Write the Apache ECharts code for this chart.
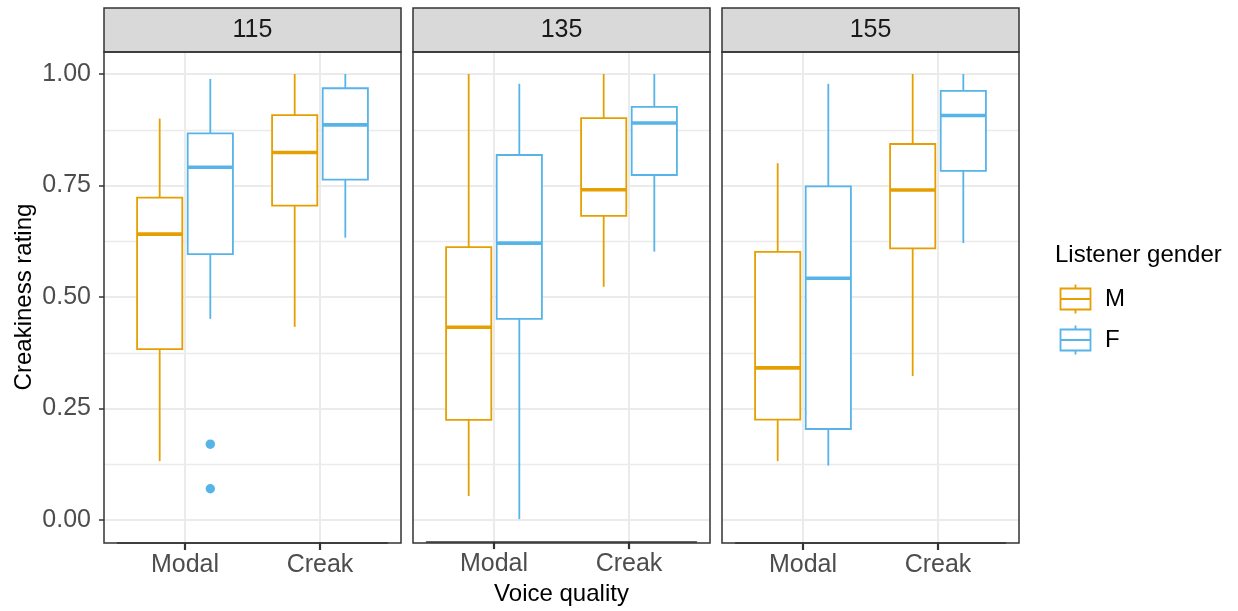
<!DOCTYPE html>
<html>
<head>
<meta charset="utf-8">
<script src="https://cdn.jsdelivr.net/npm/echarts@6/dist/echarts.min.js"></script>
<style>
  html, body { margin: 0; padding: 0; background: #fff; }
  #chart { width: 1238px; height: 611px; }
</style>
</head>
<body>
<div id="chart"></div>
<script>
// ---------------- data ----------------
const categories = ['Modal', 'Creak'];
const panels = ['115', '135', '155'];
const yTicks = [0, 0.25, 0.5, 0.75, 1];
const yTickLabels = ['0.00', '0.25', '0.50', '0.75', '1.00'];

// [low whisker, Q1, median, Q3, high whisker] for Modal, Creak
const M_115 = [[0.132, 0.383, 0.641, 0.723, 0.900], [0.433, 0.705, 0.824, 0.908, 1.000]];
const F_115 = [[0.451, 0.596, 0.791, 0.867, 0.989], [0.633, 0.763, 0.886, 0.968, 1.000]];
const M_135 = [[0.052, 0.223, 0.431, 0.611, 1.000], [0.522, 0.681, 0.740, 0.901, 1.000]];
const F_135 = [[0.000, 0.450, 0.620, 0.818, 0.978], [0.601, 0.773, 0.890, 0.926, 1.000]];
const M_155 = [[0.132, 0.225, 0.341, 0.601, 0.800], [0.323, 0.609, 0.740, 0.843, 1.000]];
const F_155 = [[0.122, 0.204, 0.542, 0.748, 0.978], [0.621, 0.783, 0.907, 0.962, 1.000]];

// outliers: [category, value]
const F_115_outliers = [['Modal', 0.170], ['Modal', 0.070]];

// ---------------- styling ----------------
const FONT = '"Liberation Sans", Arial, sans-serif';
const ORANGE = '#E69F00';
const BLUE = '#56B4E9';
const GRID_COLOR = '#EBEBEB';
const BORDER = '#333333';
const LW = 1.8;
const BOX_WIDTH = 0.335;  // fraction of category band
const DODGE = 0.1875;     // offset of box centre from category centre (fraction of band)

const PANEL_X0 = 104, PANEL_W = 297, PANEL_GAP = 12;
const PANEL_TOP = 52, PANEL_BOTTOM = 543;
const STRIP_TOP = 8;
const Y0_PX = 520, Y1_PX = 74; // pixel rows of 0 and 1
const EXPAND = 0.6; // ggplot discrete expansion (units)

const pxPerUnit = (Y0_PX - Y1_PX);
const yMinFull = -(PANEL_BOTTOM - Y0_PX) / pxPerUnit;
const yMaxFull = 1 + (Y1_PX - PANEL_TOP) / pxPerUnit;

const statsM = { '115': M_115, '135': M_135, '155': M_155 };
const statsF = { '115': F_115, '135': F_135, '155': F_155 };
const outliersF = { '115': F_115_outliers, '135': [], '155': [] };

function boxRenderer(offset, color) {
  return function (params, api) {
    const ci = api.value(0);
    const band = api.size([1, 0])[0];
    const x = api.coord([ci, 0])[0] + offset * band;
    const hw = BOX_WIDTH * band / 2;
    const y = k => api.coord([ci, api.value(k)])[1];
    const yl = y(1), yq1 = y(2), ym = y(3), yq3 = y(4), yh = y(5);
    return {
      type: 'group',
      children: [
        { type: 'line', shape: { x1: x, y1: yh, x2: x, y2: yq3 }, style: { stroke: color, lineWidth: LW } },
        { type: 'line', shape: { x1: x, y1: yq1, x2: x, y2: yl }, style: { stroke: color, lineWidth: LW } },
        { type: 'rect', shape: { x: x - hw, y: yq3, width: 2 * hw, height: yq1 - yq3 }, style: { fill: '#fff', stroke: color, lineWidth: LW } },
        { type: 'line', shape: { x1: x - hw, y1: ym, x2: x + hw, y2: ym }, style: { stroke: color, lineWidth: LW * 2 } }
      ]
    };
  };
}

function outlierRenderer(offset, color) {
  return function (params, api) {
    const ci = api.value(0);
    const band = api.size([1, 0])[0];
    const p = api.coord([ci, api.value(1)]);
    return { type: 'circle', shape: { cx: p[0] + offset * band, cy: p[1], r: 4.7 }, style: { fill: color } };
  };
}

const grids = [], xAxes = [], yAxes = [], series = [];
const hiddenValueAxis = (gi) => ({ type: 'value', gridIndex: gi, show: false, splitLine: { show: false } });

panels.forEach((pn, p) => {
  const left = PANEL_X0 + p * (PANEL_W + PANEL_GAP);
  const unit = PANEL_W / (categories.length - 1 + 2 * EXPAND);
  const catW = unit * categories.length;
  const catLeft = left + (EXPAND - 0.5) * unit;
  const base = grids.length;

  // A: frame
  grids.push({ left: left, top: PANEL_TOP, width: PANEL_W, height: PANEL_BOTTOM - PANEL_TOP, show: true,
    borderColor: BORDER, borderWidth: 1.5, backgroundColor: 'transparent', z: 5 });
  xAxes.push(hiddenValueAxis(base));
  yAxes.push(hiddenValueAxis(base));

  // B: horizontal grid lines & y labels
  grids.push({ left: left, top: Y1_PX, width: PANEL_W, height: Y0_PX - Y1_PX, show: false });
  xAxes.push(hiddenValueAxis(base + 1));
  yAxes.push({
    type: 'value', gridIndex: base + 1, min: 0, max: 1, interval: 0.25,
    axisLine: { show: false },
    axisTick: { show: p === 0, length: 5, lineStyle: { color: BORDER, width: 1.5 } },
    axisLabel: { show: p === 0, margin: 13, fontSize: 25, color: '#4D4D4D', fontFamily: FONT,
      formatter: v => { const i = yTicks.findIndex(t => Math.abs(t - v) < 1e-9); return i >= 0 ? yTickLabels[i] : ''; } },
    splitLine: { show: true, lineStyle: { color: GRID_COLOR, width: 2 } },
    minorTick: { show: false, splitNumber: 2 },
    minorSplitLine: { show: true, lineStyle: { color: GRID_COLOR, width: 1.3 } },
    name: p === 0 ? 'Creakiness rating' : '',
    nameLocation: 'middle', nameGap: 68, nameRotate: 90,
    nameTextStyle: { fontSize: 24, color: '#000', fontFamily: FONT }
  });

  // C: categories (ticks, labels) & boxes
  grids.push({ left: catLeft, top: PANEL_TOP, width: catW, height: PANEL_BOTTOM - PANEL_TOP, show: false });
  xAxes.push({
    type: 'category', gridIndex: base + 2, data: categories, boundaryGap: true, position: 'bottom', z: 10,
    axisLine: { show: true, onZero: false, lineStyle: { color: BORDER, width: 1.5 } },
    axisTick: { show: true, inside: false, interval: 0, alignWithLabel: true, length: 7, lineStyle: { color: '#333333', width: 2.2 } },
    axisLabel: { margin: 10, fontSize: 25, color: '#4D4D4D', fontFamily: FONT },
    splitLine: { show: false },
    name: p === 1 ? 'Voice quality' : '',
    nameLocation: 'middle', nameGap: 37,
    nameTextStyle: { fontSize: 24, color: '#000', fontFamily: FONT }
  });
  yAxes.push({ type: 'value', gridIndex: base + 2, min: yMinFull, max: yMaxFull, show: false, splitLine: { show: false } });

  // D: strip
  grids.push({ left: left, top: STRIP_TOP, width: PANEL_W, height: PANEL_TOP - STRIP_TOP, show: true,
    backgroundColor: '#D9D9D9', borderColor: BORDER, borderWidth: 1.5, z: 4 });
  xAxes.push({
    type: 'category', gridIndex: base + 3, data: [pn], z: 8, position: 'bottom',
    axisLine: { show: false, onZero: false }, axisTick: { show: false }, splitLine: { show: false },
    axisLabel: { inside: true, verticalAlign: 'middle', margin: 22, fontSize: 25, color: '#1A1A1A', fontFamily: FONT }
  });
  yAxes.push(hiddenValueAxis(base + 3));

  // E: vertical grid lines at category centres (drawn below the frame)
  grids.push({ left: catLeft, top: PANEL_TOP, width: catW, height: PANEL_BOTTOM - PANEL_TOP, show: false });
  xAxes.push({
    type: 'category', gridIndex: base + 4, data: categories, boundaryGap: true,
    axisLine: { show: false, onZero: false }, axisTick: { show: false }, axisLabel: { show: false },
    splitLine: { show: true, alignWithLabel: true, lineStyle: { color: GRID_COLOR, width: 2 } }
  });
  yAxes.push(hiddenValueAxis(base + 4));

  const dims = ['cat', 'low', 'q1', 'med', 'q3', 'high'];
  series.push({
    name: 'M', type: 'custom', xAxisIndex: base + 2, yAxisIndex: base + 2,
    dimensions: dims, encode: { x: 0, y: [1, 2, 3, 4, 5] },
    renderItem: boxRenderer(-DODGE, ORANGE),
    data: categories.map((c, i) => [c].concat(statsM[pn][i])),
    itemStyle: { color: ORANGE }, z: 3
  });
  series.push({
    name: 'F', type: 'custom', xAxisIndex: base + 2, yAxisIndex: base + 2,
    dimensions: dims, encode: { x: 0, y: [1, 2, 3, 4, 5] },
    renderItem: boxRenderer(DODGE, BLUE),
    data: categories.map((c, i) => [c].concat(statsF[pn][i])),
    itemStyle: { color: BLUE }, z: 3
  });
  if (outliersF[pn].length) {
    series.push({
      name: 'F', type: 'custom', xAxisIndex: base + 2, yAxisIndex: base + 2,
      dimensions: ['cat', 'val'], encode: { x: 0, y: 1 },
      renderItem: outlierRenderer(DODGE, BLUE),
      data: outliersF[pn], itemStyle: { color: BLUE }, z: 3
    });
  }
});

const KEY_PATH = 'path://M15,0L15,4M0,4L30,4L30,25L0,25ZM0,14.5L30,14.5M15,25L15,29';

const option = {
  animation: false,
  backgroundColor: '#fff',
  textStyle: { fontFamily: FONT },
  title: [{
    text: 'Listener gender', left: 1055, top: 243, padding: 0,
    textStyle: { fontSize: 24, fontWeight: 'normal', color: '#000', fontFamily: FONT }
  }],
  legend: {
    orient: 'vertical', left: 1058, top: 282, padding: 0,
    itemWidth: 31, itemHeight: 29, itemGap: 7, selectedMode: false,
    textStyle: { fontSize: 24, color: '#000', fontFamily: FONT, padding: [0, 0, 0, 9] },
    data: [
      { name: 'M', icon: KEY_PATH, itemStyle: { color: 'none', borderColor: ORANGE, borderWidth: 1.8 } },
      { name: 'F', icon: KEY_PATH, itemStyle: { color: 'none', borderColor: BLUE, borderWidth: 1.8 } }
    ]
  },
  grid: grids,
  xAxis: xAxes,
  yAxis: yAxes,
  series: series
};

const chart = echarts.init(document.getElementById('chart'), null, { renderer: 'canvas' });
chart.setOption(option);
</script>
</body>
</html>
